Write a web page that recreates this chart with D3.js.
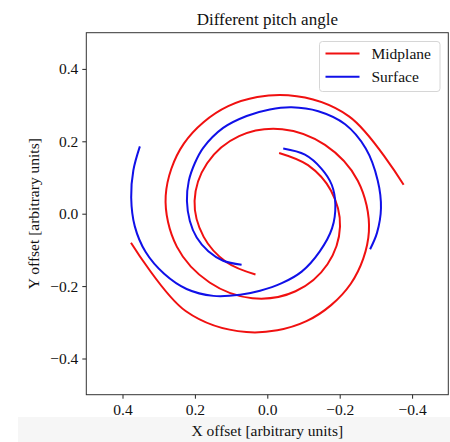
<!DOCTYPE html>
<html>
<head>
<meta charset="utf-8">
<script src="https://cdn.jsdelivr.net/npm/d3@7"></script>
<style>
  body { margin: 0; background: #fff; }
  svg { display: block; font-family: "Liberation Serif", "DejaVu Serif", serif; }
</style>
</head>
<body>
<script>
// Midplane : bras lus en coordonnées polaires (angle en degrés, rayon en unités arbitraires)
const midplaneAngle1 = [101, 130, 160, 190, 220, 250, 280, 310, 340, 370, 400, 430, 460, 490, 528]
const midplaneAngle2 = [281, 310, 340, 370, 400, 430, 460, 490, 520, 550, 580, 610, 640, 670, 708]
const midplaneRadius = [0.171, 0.175, 0.187, 0.204, 0.217, 0.228, 0.237, 0.248, 0.266, 0.285,
                        0.301, 0.316, 0.332, 0.351, 0.385]

// Surface : points (x, y)
const surfaceArm1 = [
  [-0.044, 0.180], [-0.104, 0.163], [-0.150, 0.124], [-0.178, 0.080], [-0.188, 0.025],
  [-0.179, -0.040], [-0.145, -0.104], [-0.095, -0.160], [-0.040, -0.192], [0.020, -0.213],
  [0.075, -0.224], [0.149, -0.227], [0.223, -0.208], [0.285, -0.166], [0.336, -0.106],
  [0.366, -0.035], [0.376, 0.045], [0.370, 0.120], [0.352, 0.186]
]
const surfaceArm2 = [
  [0.071, -0.141], [0.122, -0.130], [0.163, -0.104], [0.195, -0.066], [0.214, -0.020],
  [0.222, 0.035], [0.217, 0.090], [0.200, 0.140], [0.177, 0.182], [0.122, 0.237],
  [0.057, 0.270], [-0.007, 0.288], [-0.067, 0.294], [-0.141, 0.283], [-0.215, 0.247],
  [-0.272, 0.180], [-0.305, 0.092], [-0.314, 0.015], [-0.303, -0.053], [-0.284, -0.098]
]

const xTicks = [0.4, 0.2, 0.0, -0.2, -0.4]
const yTicks = [0.4, 0.2, 0.0, -0.2, -0.4]

// polaire -> cartésien
const toXY = (angles, radii) => angles.map((a, i) => [
  radii[i] * Math.cos(a * Math.PI / 180),
  radii[i] * Math.sin(a * Math.PI / 180)
])

const series = [
  { name: "Midplane", color: "#f01010",
    arms: [toXY(midplaneAngle1, midplaneRadius), toXY(midplaneAngle2, midplaneRadius)] },
  { name: "Surface", color: "#1010e8", arms: [surfaceArm1, surfaceArm2] }
]

const W = 450, H = 442
const margin = { top: 32.7, right: 1.7, bottom: 47.3, left: 86.3 }

const svg = d3.select("body").append("svg")
  .attr("width", W)
  .attr("height", H)

// bande grise en bas (capture d'écran)
svg.append("rect")
  .attr("x", 18).attr("y", 417)
  .attr("width", W - 18).attr("height", H - 417)
  .attr("fill", "#f6f6f6")

// axe x inversé
const x = d3.scaleLinear().domain([0.5, -0.5]).range([margin.left, W - margin.right])
const y = d3.scaleLinear().domain([-0.5, 0.5]).range([H - margin.bottom, margin.top])

const fmt = d => d3.format(".1f")(d).replace("-", "\u2212")

const gx = svg.append("g")
  .attr("transform", `translate(0,${H - margin.bottom})`)
  .call(d3.axisBottom(x).tickValues(xTicks).tickFormat(fmt).tickSize(4).tickPadding(5))
const gy = svg.append("g")
  .attr("transform", `translate(${margin.left},0)`)
  .call(d3.axisLeft(y).tickValues(yTicks).tickFormat(fmt).tickSize(4).tickPadding(4))

for (const g of [gx, gy]) {
  g.select(".domain").remove()
  g.selectAll("text").attr("font-size", 15.5).attr("fill", "#111")
    .attr("font-family", "'Liberation Serif', serif")
  g.selectAll("line").attr("stroke", "#222")
}

// spirales
const line = d3.line()
  .x(d => x(d[0]))
  .y(d => y(d[1]))
  .curve(d3.curveCatmullRom.alpha(0.5))

series.forEach(s => {
  svg.append("g").selectAll("path")
    .data(s.arms)
    .join("path")
    .attr("d", line)
    .attr("fill", "none")
    .attr("stroke", s.color)
    .attr("stroke-width", 2)
})

// cadre
svg.append("rect")
  .attr("x", margin.left).attr("y", margin.top)
  .attr("width", W - margin.right - margin.left)
  .attr("height", H - margin.bottom - margin.top)
  .attr("fill", "none")
  .attr("stroke", "#333")
  .attr("stroke-width", 1)

// titre et labels
svg.append("text")
  .attr("x", (margin.left + W - margin.right) / 2)
  .attr("y", 25)
  .attr("text-anchor", "middle")
  .attr("font-size", 17)
  .attr("fill", "#111")
  .text("Different pitch angle")

svg.append("text")
  .attr("x", (margin.left + W - margin.right) / 2)
  .attr("y", 436)
  .attr("text-anchor", "middle")
  .attr("font-size", 15.5)
  .attr("fill", "#111")
  .text("X offset [arbitrary units]")

svg.append("text")
  .attr("transform", `translate(39,${(margin.top + H - margin.bottom) / 2}) rotate(-90)`)
  .attr("text-anchor", "middle")
  .attr("font-size", 15.5)
  .attr("fill", "#111")
  .text("Y offset [arbitrary units]")

// légende
const leg = svg.append("g").attr("transform", "translate(319.5,41.5)")
leg.append("rect")
  .attr("width", 120.5).attr("height", 50)
  .attr("rx", 3)
  .attr("fill", "#fff").attr("fill-opacity", 0.8)
  .attr("stroke", "#d6d6d6")
series.forEach((s, i) => {
  leg.append("line")
    .attr("x1", 6).attr("x2", 40)
    .attr("y1", 12 + i * 23.3).attr("y2", 12 + i * 23.3)
    .attr("stroke", s.color).attr("stroke-width", 2)
  leg.append("text")
    .attr("x", 52).attr("y", 17.5 + i * 23.3)
    .attr("font-size", 15.5)
    .attr("fill", "#111")
    .text(s.name)
})
</script>
</body>
</html>
